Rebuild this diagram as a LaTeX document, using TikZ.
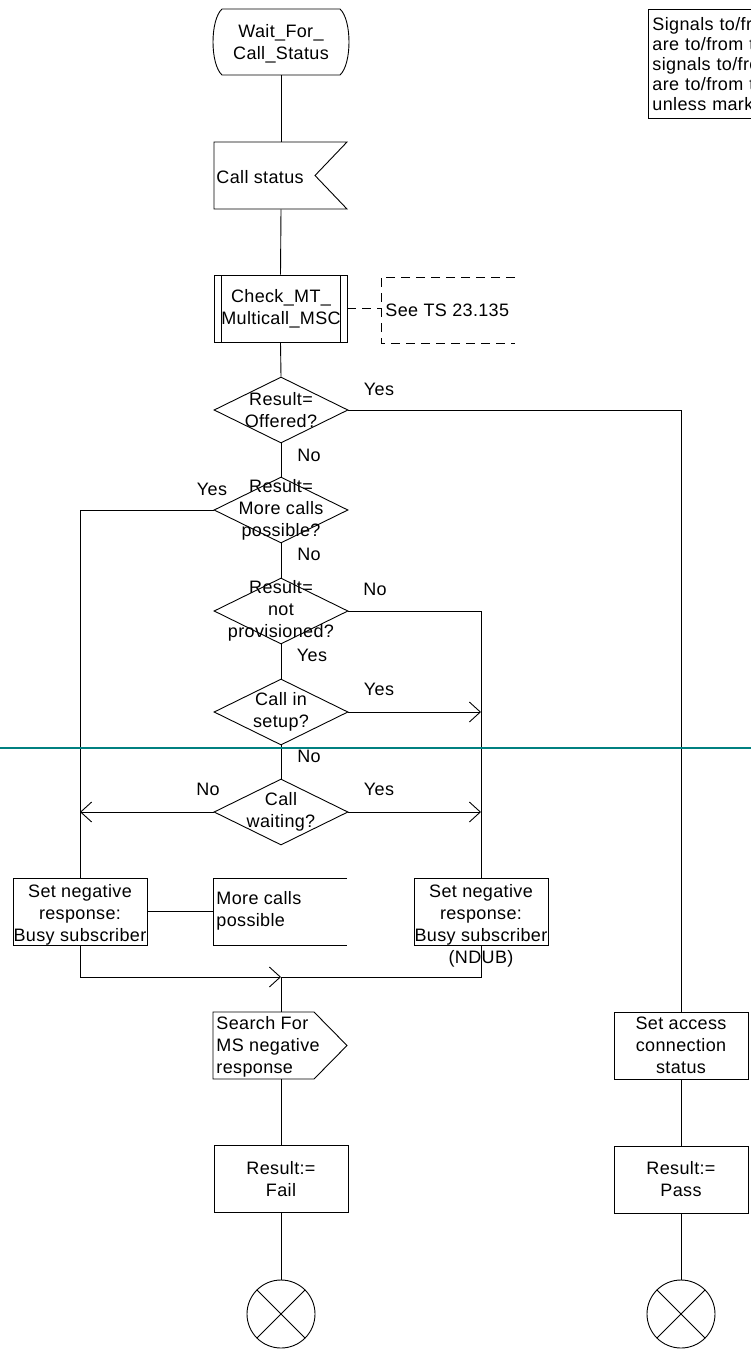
\documentclass[tikz,border=0pt]{standalone}
\usepackage{fontspec}
\setmainfont{Liberation Sans}[LetterSpace=2]
\usetikzlibrary{shapes.geometric,arrows.meta}
\definecolor{tealline}{RGB}{0,128,128}
\begin{document}
\begin{tikzpicture}[x=1pt,y=-1pt,line width=0.9pt,
  font=\fontsize{18}{22}\selectfont,
  frame/.style={minimum width=134pt,minimum height=67pt,inner sep=0pt,align=center},
  boxnode/.style={frame,draw},
  dia/.style={diamond,draw,aspect=2,minimum width=134pt,minimum height=66pt,inner sep=0pt},
  txt/.style={align=center,inner sep=0pt},
  lbl/.style={inner sep=0pt},
  arr/.style={-{Straight Barb[length=11pt,width=20pt]}},
  cmt/.style={dash pattern=on 9pt off 6pt}]
\useasboundingbox (0,0) rectangle (751,1360);
\clip (0,0) rectangle (751,1360);

% state
\node[frame,minimum height=66pt] (wait) at (281,42) {};
\node[txt] at (281,44) {Wait\_For\_\\Call\_Status};
\draw (222,9) -- (340,9) .. controls (352,20) and (352,64) .. (340,75) -- (222,75)
      .. controls (210,64) and (210,20) .. (222,9);

% input signal
\node[frame] (status) at (281,175.5) {};
\draw (214,142) -- (347,142) -- (315,175.5) -- (347,209) -- (214,209) -- cycle;
\node[lbl,anchor=west] (statustxt) at (216,177) {Call status};

% procedure
\node[boxnode,minimum width=133pt] (check) at (280.5,308.5) {};
\node[txt] at (281,309) {Check\_MT\_\\Multicall\_MSC};
\draw (221,275) -- (221,342);
\draw (340,275) -- (340,342);
\coordinate (cm) at (381,308.5);
\draw[cmt] (check.east) -- (cm);
\draw[cmt] (515,277) -| (381,343) -- (515,343);
\node[lbl,anchor=west] (seets) at (385,310) {See TS 23.135};

% decisions
\node[dia] (d1) at (281,410) {};
\node[txt] at (d1) {Result=\\Offered?};
\node[dia] (d2) at (281,510) {};
\node[txt] at (d2) {Result=\\More calls\\possible?};
\node[dia] (d3) at (281,611) {};
\node[txt] at (d3) {Result=\\not\\provisioned?};
\node[dia] (d4) at (281,712) {};
\node[txt] at (d4) {Call in\\setup?};
\node[dia] (d5) at (281,812) {};
\node[txt] at (d5) {Call\\waiting?};

% labels
\node[lbl] at (379,389) {Yes};
\node[lbl] at (309,455) {No};
\node[lbl] at (212,489) {Yes};
\node[lbl] at (309,554) {No};
\node[lbl] at (375,589) {No};
\node[lbl] at (312,655) {Yes};
\node[lbl] at (379,689) {Yes};
\node[lbl] at (309,756) {No};
\node[lbl] at (208,789) {No};
\node[lbl] at (379,789) {Yes};

% tasks
\node[frame] (neg1) at (80,911.5) {};
\draw (13,878) rectangle (147,945);
\node[txt] at (80,915) {Set negative\\response:\\Busy subscriber};
\node[frame] (more) at (281,911.5) {};
\draw (347,878) -- (213,878) -- (213,945) -- (347,945);
\node[txt,align=left,anchor=west] at (216,911) {More calls\\possible};
\node[frame] (neg2) at (481,911.5) {};
\draw (414,878) rectangle (548,945);
\node[txt] at (481,926) {Set negative\\response:\\Busy subscriber\\(NDUB)};

\node[frame] (search) at (281,1045.5) {};
\draw (213,1012) -- (314,1012) -- (347,1045.5) -- (314,1079) -- (213,1079) -- cycle;
\node[txt,align=left,anchor=west] at (216,1047) {Search For\\MS negative\\response};

\node[boxnode] (fail) at (281,1179) {Result:=\\Fail};
\node[boxnode] (access) at (681,1045.5) {Set access\\connection\\status};
\node[boxnode] (pass) at (681,1179.5) {Result:=\\Pass};

\node[circle,draw,minimum size=68pt,inner sep=0pt] (t1) at (281,1314) {};
\draw (t1.north west) -- (t1.south east) (t1.north east) -- (t1.south west);
\node[circle,draw,minimum size=68pt,inner sep=0pt] (t2) at (681,1314) {};
\draw (t2.north west) -- (t2.south east) (t2.north east) -- (t2.south west);

% note
\node[draw,anchor=north west,align=left,inner sep=4pt,minimum height=109pt,text width=260pt,
  font=\fontsize{18}{20}\selectfont] (note) at (648,9)
  {Signals to/from the left\\are to/from the VLR;\\signals to/from the right\\are to/from the process\\unless marked otherwise};

% connectors
\draw (wait.south) -- (status.north);
\draw (status.south) -- (check.north);
\draw (check.south) -- (d1.north);
\draw (d1.south) -- (d2.north);
\draw (d2.south) -- (d3.north);
\draw (d3.south) -- (d4.north);
\draw (d4.south) -- (d5.north);
\draw (d1.east) -| (access.north);
\draw (d2.west) -| (neg1.north);
\draw (d3.east) -| (neg2.north);
\coordinate (a4) at (481,712);
\draw[arr] (d4.east) -- (a4);
\coordinate (a5l) at (80,812);
\coordinate (a5r) at (481,812);
\draw[arr] (d5.west) -- (a5l);
\draw[arr] (d5.east) -- (a5r);
\draw (neg1.east) -- (more.west);
\coordinate (m) at (281,977);
\draw[arr] (neg1.south) |- (m);
\draw (neg2.south) |- (m);
\draw (m) -- (search.north);
\draw (search.south) -- (fail.north);
\draw (fail.south) -- (t1.north);
\draw (access.south) -- (pass.north);
\draw (pass.south) -- (t2.north);

\draw[tealline,line width=2pt] (0,748) -- (751,748);
\end{tikzpicture}
\end{document}
